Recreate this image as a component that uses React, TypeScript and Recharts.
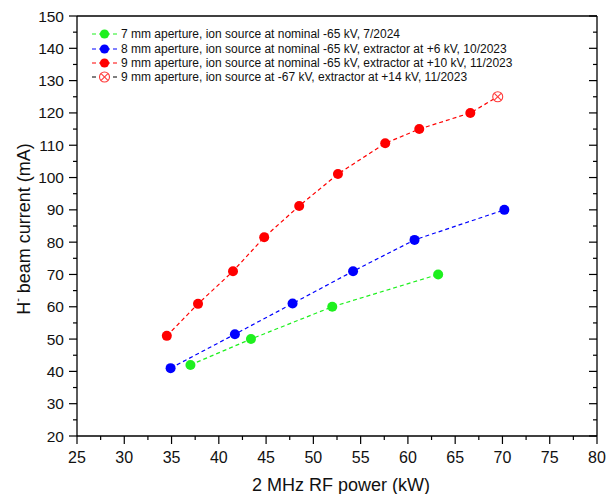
import React from 'react';
import { ComposedChart, Line, XAxis, YAxis, Label } from 'recharts';

// x = 2 MHz RF power (kW), y = H- beam current (mA)
const greenX = [37.0, 43.4, 52.0, 63.2];
const greenY = [42, 50, 60, 70];
const blueX = [34.9, 41.7, 47.8, 54.2, 60.7, 70.2];
const blueY = [41, 51.5, 61, 71, 80.7, 90];
const redX = [34.5, 37.8, 41.5, 44.8, 48.5, 52.6, 57.6, 61.2, 66.6];
const redY = [51, 60.9, 71, 81.5, 91.2, 101.1, 110.6, 115, 120];
const crossX = [69.5];
const crossY = [125];

const xTicks = [25, 27.5, 30, 32.5, 35, 37.5, 40, 42.5, 45, 47.5, 50, 52.5, 55, 57.5, 60, 62.5, 65, 67.5, 70, 72.5, 75, 77.5, 80];
const xLabels = [25, 30, 35, 40, 45, 50, 55, 60, 65, 70, 75, 80];
const yTicks = [20, 25, 30, 35, 40, 45, 50, 55, 60, 65, 70, 75, 80, 85, 90, 95, 100, 105, 110, 115, 120, 125, 130, 135, 140, 145, 150];
const yLabels = [20, 30, 40, 50, 60, 70, 80, 90, 100, 110, 120, 130, 140, 150];

const legendLabels = [
  '7 mm aperture, ion source at nominal -65 kV, 7/2024',
  '8 mm aperture, ion source at nominal -65 kV, extractor at +6 kV, 10/2023',
  '9 mm aperture, ion source at nominal -65 kV, extractor at +10 kV, 11/2023',
  '9 mm aperture, ion source at -67 kV, extractor at +14 kV, 11/2023',
];

const GREEN = '#1ef01e';
const BLUE = '#0000ff';
const RED = '#ff0000';
const FONT = '"Liberation Sans", Arial, Helvetica, sans-serif';

const zip = (xs: number[], ys: number[]) => xs.map((x, i) => ({ x, y: ys[i] }));
const greenData = zip(greenX, greenY);
const blueData = zip(blueX, blueY);
const redData = zip(redX, redY);
const crossData = zip(crossX, crossY);
const redLineData = [...redData, ...crossData];

const BottomTick = ({ x, y, payload }: any) => {
  const major = xLabels.includes(payload.value);
  return (
    <g>
      <line x1={x} x2={x} y1={y} y2={y + (major ? 8 : 4)} stroke="#000" strokeWidth={1.2} />
      {major && (
        <text x={x} y={y + 21} textAnchor="middle" dominantBaseline="central" fontSize={16} fontFamily={FONT} fill="#111">
          {payload.value}
        </text>
      )}
    </g>
  );
};

const TopTick = ({ x, y, payload }: any) => {
  const major = xLabels.includes(payload.value);
  return <line x1={x} x2={x} y1={y} y2={y + (major ? 8 : 4)} stroke="#000" strokeWidth={1.2} />;
};

const LeftTick = ({ x, y, payload }: any) => {
  const major = yLabels.includes(payload.value);
  return (
    <g>
      <line x1={x - (major ? 8 : 4)} x2={x} y1={y} y2={y} stroke="#000" strokeWidth={1.2} />
      {major && (
        <text x={x - 13} y={y} textAnchor="end" dominantBaseline="central" fontSize={15.5} fontFamily={FONT} fill="#111">
          {payload.value}
        </text>
      )}
    </g>
  );
};

const RightTick = ({ x, y, payload }: any) => {
  const major = yLabels.includes(payload.value);
  return <line x1={x - (major ? 8 : 4)} x2={x} y1={y} y2={y} stroke="#000" strokeWidth={1.2} />;
};

const XTitle = () => (
  <text x={341} y={485} textAnchor="middle" dominantBaseline="central" fontSize={18} fontFamily={FONT} fill="#111">
    2 MHz RF power (kW)
  </text>
);

const YTitle = () => (
  <text x={24} y={229} transform="rotate(-90 24 229)" textAnchor="middle" dominantBaseline="central" fontSize={18} fontFamily={FONT} fill="#111">
    H<tspan fontSize={11} dy={-7}>-</tspan>
    <tspan dy={7}> beam current (mA)</tspan>
  </text>
);

const CrossDot = ({ cx, cy }: any) => {
  if (cx == null || cy == null) return null;
  const d = 3.4;
  return (
    <g>
      <circle cx={cx} cy={cy} r={5} fill="#fff" stroke="#ff3b3b" strokeWidth={1.1} />
      <line x1={cx - d} y1={cy - d} x2={cx + d} y2={cy + d} stroke="#ff3b3b" strokeWidth={1.1} />
      <line x1={cx - d} y1={cy + d} x2={cx + d} y2={cy - d} stroke="#ff3b3b" strokeWidth={1.1} />
    </g>
  );
};

const RedDot = ({ cx, cy, index }: any) => {
  if (index >= redData.length) return <g />;
  return <circle cx={cx} cy={cy} r={5} fill={RED} />;
};

const LegendBox = () => {
  const colors = [GREEN, BLUE, RED, '#000'];
  return (
    <div style={{ position: 'absolute', left: 90, top: 27, fontFamily: FONT, fontSize: 12, color: '#111' }}>
      {legendLabels.map((label, i) => (
        <div key={label} style={{ display: 'flex', alignItems: 'center', height: 14.4, whiteSpace: 'nowrap' }}>
          <svg width={29} height={14} style={{ marginRight: 2 }}>
            <line x1={2} x2={27} y1={7} y2={7} stroke={colors[i]} strokeWidth={1} strokeDasharray="4 3" />
            {i < 3 ? (
              <circle cx={14.5} cy={7} r={4.6} fill={colors[i]} />
            ) : (
              <CrossDot cx={14.5} cy={7} />
            )}
          </svg>
          <span>{label}</span>
        </div>
      ))}
    </div>
  );
};

export default function App() {
  return (
    <div style={{ position: 'absolute', left: 0, top: 0, width: 607, height: 494, background: '#fff' }}>
      <ComposedChart width={607} height={494} margin={{ top: 14, right: 8, bottom: 18, left: 17 }}>
        <XAxis
          xAxisId="b"
          dataKey="x"
          type="number"
          domain={[25, 80]}
          ticks={xTicks}
          interval={0}
          height={40}
          tickSize={0}
          tickMargin={0}
          tickLine={false}
          tick={BottomTick}
          axisLine={{ stroke: '#000', strokeWidth: 1.3 }}
          allowDataOverflow
        >
          <Label content={XTitle} />
        </XAxis>
        <XAxis
          xAxisId="t"
          orientation="top"
          type="number"
          domain={[25, 80]}
          ticks={xTicks}
          interval={0}
          height={2}
          tickSize={0}
          tickMargin={0}
          tickLine={false}
          tick={TopTick}
          axisLine={{ stroke: '#000', strokeWidth: 1.3 }}
          allowDataOverflow
        />
        <YAxis
          yAxisId="l"
          type="number"
          domain={[20, 150]}
          ticks={yTicks}
          interval={0}
          width={60}
          tickSize={0}
          tickMargin={0}
          tickLine={false}
          tick={LeftTick}
          axisLine={{ stroke: '#000', strokeWidth: 1.3 }}
          allowDataOverflow
        >
          <Label content={YTitle} />
        </YAxis>
        <YAxis
          yAxisId="r"
          orientation="right"
          type="number"
          domain={[20, 150]}
          ticks={yTicks}
          interval={0}
          width={2}
          tickSize={0}
          tickMargin={0}
          tickLine={false}
          tick={RightTick}
          axisLine={{ stroke: '#000', strokeWidth: 1.3 }}
          allowDataOverflow
        />
        <Line
          xAxisId="b"
          yAxisId="l"
          data={greenData}
          dataKey="y"
          type="linear"
          stroke={GREEN}
          strokeWidth={1.2}
          strokeDasharray="4 3"
          dot={{ r: 5, fill: GREEN, stroke: 'none' }}
          activeDot={false}
          isAnimationActive={false}
        />
        <Line
          xAxisId="b"
          yAxisId="l"
          data={blueData}
          dataKey="y"
          type="linear"
          stroke={BLUE}
          strokeWidth={1.2}
          strokeDasharray="4 3"
          dot={{ r: 5, fill: BLUE, stroke: 'none' }}
          activeDot={false}
          isAnimationActive={false}
        />
        <Line
          xAxisId="b"
          yAxisId="l"
          data={redLineData}
          dataKey="y"
          type="linear"
          stroke={RED}
          strokeWidth={1.2}
          strokeDasharray="4 3"
          dot={RedDot}
          activeDot={false}
          isAnimationActive={false}
        />
        <Line
          xAxisId="b"
          yAxisId="l"
          data={crossData}
          dataKey="y"
          type="linear"
          stroke="none"
          dot={CrossDot}
          activeDot={false}
          isAnimationActive={false}
        />
      </ComposedChart>
      <LegendBox />
    </div>
  );
}
